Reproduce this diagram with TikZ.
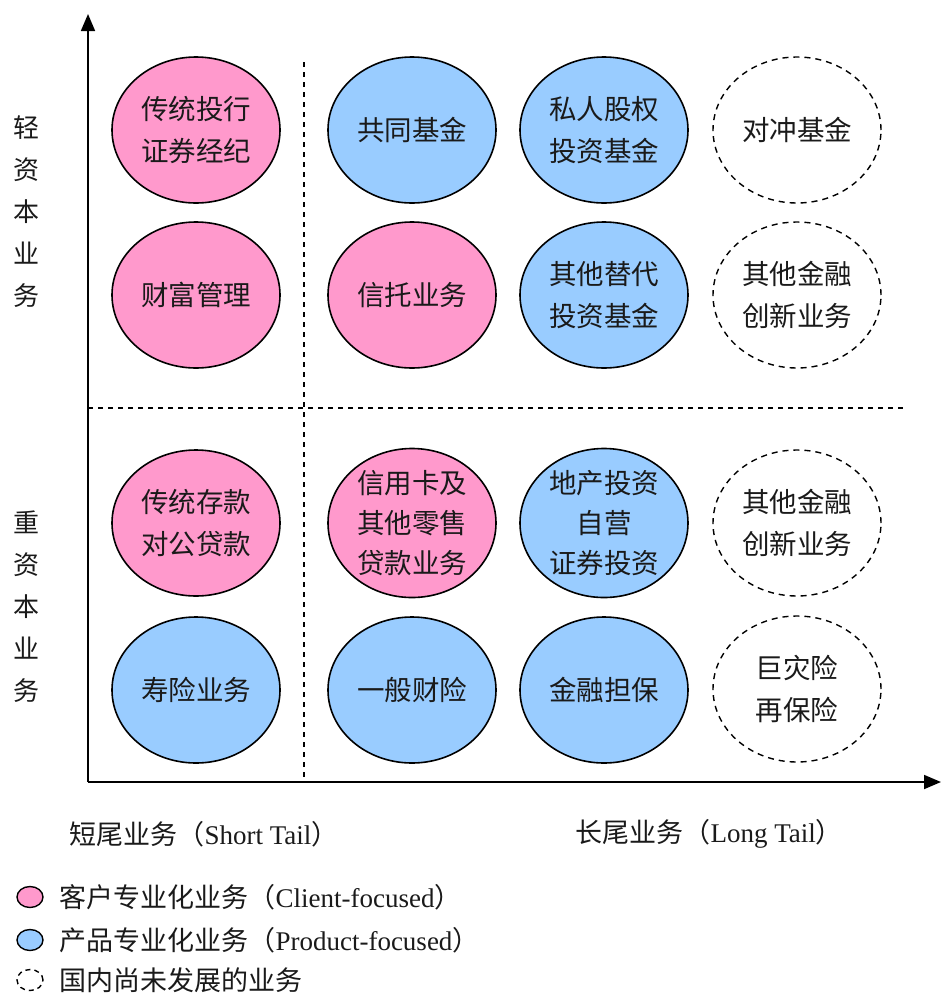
\documentclass[tikz,border=0pt]{standalone}
\usepackage{fontspec}
\setmainfont{Liberation Serif}
\newfontfamily\cjk{Noto Sans CJK SC}
\usetikzlibrary{shapes.geometric,arrows.meta}
\definecolor{pinkfill}{HTML}{FF99CC}
\definecolor{bluefill}{HTML}{99CCFF}
\definecolor{txt}{HTML}{1A1A1A}
\tikzset{
  biz/.style={ellipse,draw=black,line width=1.6pt,minimum width=168pt,minimum height=146pt,inner sep=0pt,align=center,text=txt,font=\cjk\fontsize{27.5}{42}\selectfont},
  client/.style={biz,fill=pinkfill},
  product/.style={biz,fill=bluefill},
  future/.style={biz,fill=white,dash pattern=on 6pt off 5pt,line width=1.4pt},
  axisline/.style={line width=1.8pt,-{Triangle[length=17pt,width=14pt]}},
  divider/.style={line width=1.4pt,dash pattern=on 5pt off 5pt},
  sidelbl/.style={align=center,text=txt,font=\cjk\fontsize{26}{42}\selectfont},
  bottomlbl/.style={text=txt,font=\fontsize{27}{30}\selectfont,anchor=west},
  legicon/.style={ellipse,draw=black,line width=1.4pt,minimum width=26pt,minimum height=21pt,inner sep=0pt},
  legtext/.style={text=txt,font=\fontsize{27}{30}\selectfont,anchor=west}
}
\begin{document}
\begin{tikzpicture}[x=1pt,y=-1pt]
\useasboundingbox (0,0) rectangle (941,994);
% axes
\coordinate (O) at (88,782);
\coordinate (ytop) at (88,14);
\coordinate (xend) at (941,782);
\draw[axisline] (O) -- (ytop);
\draw[axisline] (O) -- (xend);
% dividers
\coordinate (vtop) at (304,62);
\coordinate (vbot) at (304,782);
\coordinate (hleft) at (88,408);
\coordinate (hright) at (905,408);
\draw[divider] (vtop) -- (vbot);
\draw[divider] (hleft) -- (hright);
% row 1
\node[client]  (a1) at (196,130) {传统投行\\证券经纪};
\node[product] (a2) at (412,130) {共同基金};
\node[product] (a3) at (604,130) {私人股权\\投资基金};
\node[future]  (a4) at (797,130) {对冲基金};
% row 2
\node[client]  (b1) at (196,295) {财富管理};
\node[client]  (b2) at (412,295) {信托业务};
\node[product] (b3) at (604,295) {其他替代\\投资基金};
\node[future]  (b4) at (797,295) {其他金融\\创新业务};
% row 3
\node[client]  (c1) at (196,523) {传统存款\\对公贷款};
\node[client,font=\cjk\fontsize{27.5}{40}\selectfont]  (c2) at (412,523) {信用卡及\\其他零售\\贷款业务};
\node[product,font=\cjk\fontsize{27.5}{40}\selectfont] (c3) at (604,523) {地产投资\\自营\\证券投资};
\node[future]  (c4) at (797,523) {其他金融\\创新业务};
% row 4
\node[product] (d1) at (196,690) {寿险业务};
\node[product] (d2) at (412,690) {一般财险};
\node[product] (d3) at (604,690) {金融担保};
\node[future]  (d4) at (797,689) {巨灾险\\再保险};
% side labels
\node[sidelbl] (light) at (26,212) {轻\\资\\本\\业\\务};
\node[sidelbl] (heavy) at (26,607) {重\\资\\本\\业\\务};
% bottom labels
\node[bottomlbl] (short) at (66,834) {{\cjk 短尾业务（}Short Tail{\cjk ）}};
\node[bottomlbl] (long) at (572,834) {{\cjk 长尾业务（}Long Tail{\cjk ）}};
% legend
\node[legicon,fill=pinkfill] (l1) at (30,897) {};
\node[legicon,fill=bluefill] (l2) at (30,940) {};
\node[legicon,draw=black,dash pattern=on 5pt off 4pt] (l3) at (30,980) {};
\node[legtext] (t1) at (56,897) {{\cjk 客户专业化业务（}Client-focused{\cjk ）}};
\node[legtext] (t2) at (56,940) {{\cjk 产品专业化业务（}Product-focused{\cjk ）}};
\node[legtext] (t3) at (56,980) {{\cjk 国内尚未发展的业务}};
\end{tikzpicture}
\end{document}
